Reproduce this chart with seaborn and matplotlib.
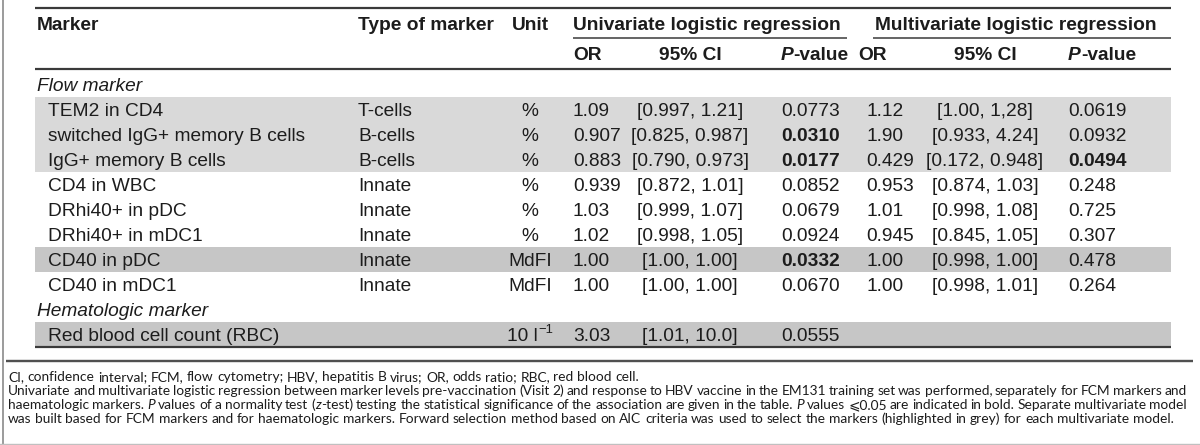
import matplotlib
matplotlib.use("Agg")
import matplotlib.pyplot as plt
import seaborn as sns

# ---------------- data ----------------
group_names = ["Flow marker", "Hematologic marker"]
marker_group = [0, 0, 0, 0, 0, 0, 0, 0, 1]
markers = ["TEM2 in CD4", "switched IgG+ memory B cells", "IgG+ memory B cells",
           "CD4 in WBC", "DRhi40+ in pDC", "DRhi40+ in mDC1", "CD40 in pDC",
           "CD40 in mDC1", "Red blood cell count (RBC)"]
marker_types = ["T-cells", "B-cells", "B-cells", "Innate", "Innate", "Innate",
                "Innate", "Innate", ""]
units = ["%", "%", "%", "%", "%", "%", "MdFI", "MdFI", "10 l^-1"]
uni_or = ["1.09", "0.907", "0.883", "0.939", "1.03", "1.02", "1.00", "1.00", "3.03"]
uni_ci = ["[0.997, 1.21]", "[0.825, 0.987]", "[0.790, 0.973]", "[0.872, 1.01]",
          "[0.999, 1.07]", "[0.998, 1.05]", "[1.00, 1.00]", "[1.00, 1.00]",
          "[1.01, 10.0]"]
uni_p = ["0.0773", "0.0310", "0.0177", "0.0852", "0.0679", "0.0924", "0.0332",
         "0.0670", "0.0555"]
multi_or = ["1.12", "1.90", "0.429", "0.953", "1.01", "0.945", "1.00", "1.00", ""]
multi_ci = ["[1.00, 1,28]", "[0.933, 4.24]", "[0.172, 0.948]", "[0.874, 1.03]",
            "[0.998, 1.08]", "[0.845, 1.05]", "[0.998, 1.00]", "[0.998, 1.01]", ""]
multi_p = ["0.0619", "0.0932", "0.0494", "0.248", "0.725", "0.307", "0.478",
           "0.264", ""]
highlight = ["light", "light", "light", "", "", "", "dark", "", "dark"]
footnotes = [
    "CI, confidence interval; FCM, flow cytometry; HBV, hepatitis B virus; OR, odds ratio; RBC, red blood cell.",
    "Univariate and multivariate logistic regression between marker levels pre-vaccination (Visit 2) and response to HBV vaccine in the EM131 training set was performed, separately for FCM markers and",
    "haematologic markers. *P* values of a normality test (*z*-test) testing the statistical significance of the association are given in the table. *P* values \u2a7d0.05 are indicated in bold. Separate multivariate model",
    "was built based for FCM markers and for haematologic markers. Forward selection method based on AIC criteria was used to select the markers (highlighted in grey) for each multivariate model.",
]
justify = [False, True, True, False]

# ---------------- style ----------------
sns.set_theme(style="white")
TAB_FONT = ["Liberation Sans", "DejaVu Sans"]
FOOT_FONT = ["Lato", "DejaVu Sans"]
plt.rcParams['font.family'] = TAB_FONT
BAND = {"light": "#d9d9d9", "dark": "#c6c6c6"}
TXT = "#1c1c1c"
RULE = "#3a3a3a"

W, H = 1200, 445
fig = plt.figure(figsize=(W / 100, H / 100), dpi=100)
fig.patch.set_facecolor("white")
ax = fig.add_axes([0, 0, 1, 1])
ax.set_xlim(0, W)
ax.set_ylim(H, 0)
ax.axis("off")
renderer = fig.canvas.get_renderer()


def measure(s, **kw):
    t = ax.text(0, 0, s, **kw)
    w = t.get_window_extent(renderer).width
    t.remove()
    return w


def width_of(s, **kw):
    return measure("|" + s + "|", **kw) - measure("||", **kw)


# layout
X0, X1 = 35, 1171
C_MARK, C_NAME, C_TYPE, C_UNIT = 37, 48, 358, 530
C_UOR, C_UCI, C_UP = 573, 690, 781
C_MGRP = 875
C_MOR_H, C_MOR, C_MCI, C_MP = 858, 866, 985, 1068
Y_TOP, Y_H1, Y_UL, Y_H2, Y_RULE = 8, 23, 38, 53, 69
Y_ROW0, PITCH = 84, 25

# fit table font size to header width
ref = "Multivariate logistic regression"
fs = 14 * 283 / width_of(ref, fontsize=14, fontweight="bold", family=TAB_FONT)
CAP = 0.716 * fs * 100 / 72


def base(yc):
    return yc + CAP / 2


def txt(x, yc, s, ha="left", weight="normal", style="normal", size=None, family=None):
    ax.text(x, base(yc), s, ha=ha, va="baseline", fontsize=size or fs,
            fontweight=weight, fontstyle=style, color=TXT,
            family=family or TAB_FONT)


def runs_txt(x, yc, runs, ha="left", family=None, size=None):
    size = size or fs
    fam = family or TAB_FONT
    ws = []
    for r in runs:
        ws.append(width_of(r[0], fontsize=size * r[3], fontweight=r[1],
                           fontstyle=r[2], family=fam))
    tot = sum(ws)
    if ha == "center":
        x -= tot / 2
    elif ha == "right":
        x -= tot
    for r, w in zip(runs, ws):
        ax.text(x, base(yc) + r[4], r[0], ha="left", va="baseline",
                fontsize=size * r[3], fontweight=r[1], fontstyle=r[2],
                color=TXT, family=fam)
        x += w


# ---- row layout (group headers interleaved) ----
row_y = []
group_y = {}
k = 0
for i, g in enumerate(marker_group):
    if g not in group_y:
        group_y[g] = Y_ROW0 + PITCH * k
        k += 1
    row_y.append(Y_ROW0 + PITCH * k)
    k += 1

# bands
for i, h in enumerate(highlight):
    if h:
        ax.fill_between([X0, X1], row_y[i] - PITCH / 2, row_y[i] + PITCH / 2,
                        color=BAND[h], lw=0, zorder=0)

# rules
lw_thick = 2.2 * 72 / 100
ax.plot([X0, X1], [Y_TOP, Y_TOP], color=RULE, lw=lw_thick, solid_capstyle="butt")
ax.plot([X0, X1], [Y_RULE, Y_RULE], color=RULE, lw=lw_thick, solid_capstyle="butt")
ax.plot([C_UOR, 847], [Y_UL, Y_UL], color=RULE, lw=1.1, solid_capstyle="butt")
ax.plot([C_MGRP - 2, X1], [Y_UL, Y_UL], color=RULE, lw=1.1, solid_capstyle="butt")
y_bot = row_y[-1] + PITCH / 2
ax.plot([X0, X1], [y_bot, y_bot], color=RULE, lw=lw_thick, solid_capstyle="butt")
ax.plot([6, 1193], [361, 361], color="#505050", lw=2.4 * 72 / 100, solid_capstyle="butt")
ax.plot([2.5, 2.5], [0, H], color="#8a8a8a", lw=1.2)
ax.plot([0, W], [443.5, 443.5], color="#c0c0c0", lw=1.0)

# header
txt(C_MARK, Y_H1, "Marker", weight="bold")
txt(C_TYPE, Y_H1, "Type of marker", weight="bold")
txt(C_UNIT, Y_H1, "Unit", ha="center", weight="bold")
txt(C_UOR, Y_H1, "Univariate logistic regression", weight="bold")
txt(C_MGRP, Y_H1, "Multivariate logistic regression", weight="bold")
txt(C_UOR, Y_H2, "OR", weight="bold")
txt(C_UCI, Y_H2, "95% CI", ha="center", weight="bold")
runs_txt(C_UP, Y_H2, [("P", "bold", "italic", 1, 0), ("-value", "bold", "normal", 1, 0)])
txt(C_MOR_H, Y_H2, "OR", weight="bold")
txt(C_MCI, Y_H2, "95% CI", ha="center", weight="bold")
runs_txt(C_MP, Y_H2, [("P", "bold", "italic", 1, 0), ("-value", "bold", "normal", 1, 0)])

# group labels
for g, y in group_y.items():
    txt(C_MARK, y, group_names[g], style="italic")


def pweight(p):
    return "bold" if p and float(p) <= 0.05 else "normal"


for i in range(len(markers)):
    y = row_y[i]
    txt(C_NAME, y, markers[i])
    txt(C_TYPE, y, marker_types[i])
    u = units[i]
    if "^" in u:
        a, b = u.split("^")
        runs_txt(C_UNIT, y, [(a, "normal", "normal", 1, 0),
                             (b.replace("-", "\u2212"), "normal", "normal", 0.68, -CAP * 0.55)],
                 ha="center")
    else:
        txt(C_UNIT, y, u, ha="center")
    txt(C_UOR, y, uni_or[i])
    txt(C_UCI, y, uni_ci[i], ha="center")
    txt(C_UP, y, uni_p[i], weight=pweight(uni_p[i]))
    txt(C_MOR, y, multi_or[i])
    txt(C_MCI, y, multi_ci[i], ha="center")
    txt(C_MP, y, multi_p[i], weight=pweight(multi_p[i]))

# ---- footnotes ----
FX0, FX1 = 8, 1187
foot_y = [376, 390.5, 404.5, 418.5]


def word_runs(word):
    parts = word.split("*")
    return [(p, "italic" if j % 2 else "normal") for j, p in enumerate(parts) if p]


def line_natural(line, size):
    words = line.split(" ")
    sp = width_of(" ", fontsize=size, family=FOOT_FONT)
    tot = 0
    for w in words:
        for p, s in word_runs(w):
            tot += width_of(p, fontsize=size, fontstyle=s, family=FOOT_FONT)
    return tot + sp * (len(words) - 1)


fsz = 10 * (1172 - FX0) / line_natural(footnotes[3], 10)
FCAP = 0.72 * fsz * 100 / 72
space_w = width_of(" ", fontsize=fsz, family=FOOT_FONT)
for line, yc, just in zip(footnotes, foot_y, justify):
    words = line.split(" ")
    wr = [word_runs(w) for w in words]
    ww = []
    for runs in wr:
        ww.append([width_of(p, fontsize=fsz, fontstyle=s, family=FOOT_FONT) for p, s in runs])
    tot = sum(sum(w) for w in ww)
    gap = (FX1 - FX0 - tot) / (len(words) - 1) if just else space_w
    x = FX0
    for runs, wlist in zip(wr, ww):
        for (p, s), w in zip(runs, wlist):
            ax.text(x, yc + FCAP / 2, p, ha="left", va="baseline", fontsize=fsz,
                    fontstyle=s, color=TXT, family=FOOT_FONT)
            x += w
        x += gap

fig.savefig("out.png", dpi=100, facecolor="white")
